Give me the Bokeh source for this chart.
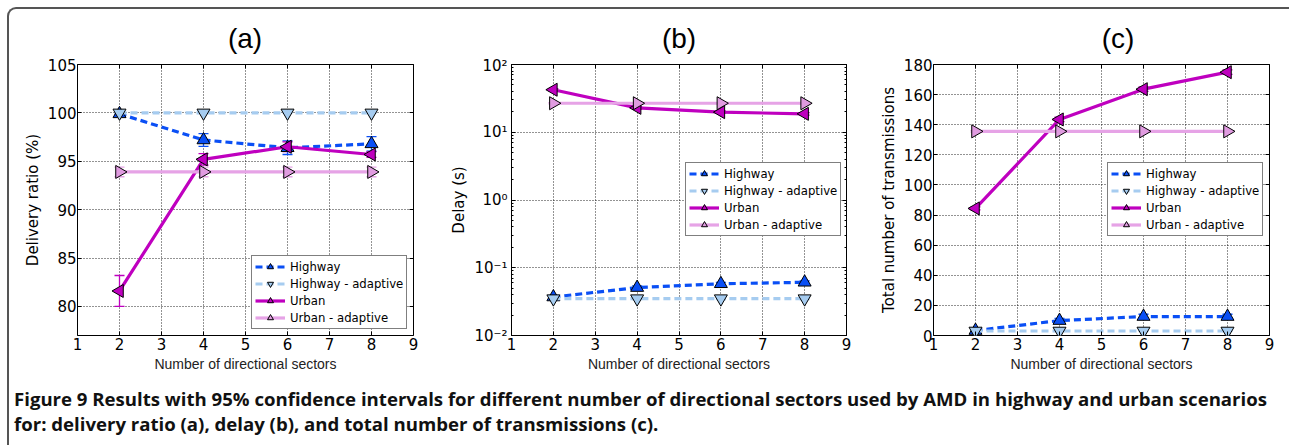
import math
from bokeh.plotting import figure
from bokeh.models import (ColumnDataSource, Whisker, TeeHead, Legend, LegendItem,
                          LinearAxis, LogAxis, Range1d, FixedTicker, LogTicker,
                          SingleIntervalTicker, CustomJSTickFormatter, Div)
from bokeh.layouts import row, column
from bokeh.embed import file_html
from bokeh.resources import INLINE

# ---------------- data ----------------
sectors = [2, 4, 6, 8]
x_ticks = [1, 2, 3, 4, 5, 6, 7, 8, 9]
series_names = ["Highway", "Highway - adaptive", "Urban", "Urban - adaptive"]
panel_titles = ["(a)", "(b)", "(c)"]

ratio_highway = [99.9, 97.2, 96.4, 96.8]
ratio_highway_err = [0.1, 0.65, 0.7, 0.75]
ratio_highway_adaptive = [100.0, 100.0, 100.0, 100.0]
ratio_highway_adaptive_err = [0.05, 0.05, 0.05, 0.05]
ratio_urban = [81.6, 95.2, 96.5, 95.7]
ratio_urban_err = [1.6, 0.6, 0.5, 0.3]
ratio_urban_adaptive = [93.9, 93.9, 93.9, 93.9]
ratio_urban_adaptive_err = [0.5, 0.5, 0.5, 0.5]

delay_highway = [0.037, 0.051, 0.058, 0.061]
delay_highway_err = [0.002, 0.003, 0.003, 0.003]
delay_highway_adaptive = [0.035, 0.035, 0.035, 0.035]
delay_highway_adaptive_err = [0.001, 0.001, 0.001, 0.001]
delay_urban = [42.4, 22.9, 19.8, 18.7]
delay_urban_err = [1.5, 1.0, 0.8, 0.8]
delay_urban_adaptive = [26.8, 26.8, 26.8, 26.8]
delay_urban_adaptive_err = [0.5, 0.5, 0.5, 0.5]

tx_highway = [3.3, 9.9, 12.6, 12.6]
tx_highway_err = [0.5, 1.5, 1.5, 1.5]
tx_highway_adaptive = [3.0, 3.0, 3.0, 3.0]
tx_highway_adaptive_err = [0.3, 0.3, 0.3, 0.3]
tx_urban = [84.4, 143.5, 163.6, 174.9]
tx_urban_err = [1.0, 1.5, 1.5, 1.5]
tx_urban_adaptive = [135.6, 135.6, 135.6, 135.6]
tx_urban_adaptive_err = [0.5, 0.5, 0.5, 0.5]

caption_line1 = ("Figure 9 Results with 95% confidence intervals for different number of "
                 "directional sectors used by AMD in highway and urban scenarios")
caption_line2 = "for: delivery ratio (a), delay (b), and total number of transmissions (c)."

# ---------------- styles ----------------
STYLES = [
    dict(color="#0A4FF5", fill="#0A4FF5", dash="7 4", marker="triangle", angle=0.0),
    dict(color="#A6CCF0", fill="#A6CCF0", dash="7 4", marker="inverted_triangle", angle=0.0),
    dict(color="#BF00BF", fill="#BF00BF", dash="solid", marker="triangle", angle=math.pi / 2),
    dict(color="#E6A3E6", fill="#E09BE0", dash="solid", marker="triangle", angle=-math.pi / 2),
]

TICK_FONT = "DejaVu Sans"
XLABEL_FONT = "Liberation Sans"
BLANK = "return '';"
TITLE_H = 47


def make_panel(ylabel, values, errors, y_start, y_end, log_scale,
               y_interval, legend_xy, border_left, border_right, frame_width,
               label_standoff):
    p = figure(frame_width=frame_width, frame_height=271,
               x_range=Range1d(1, 9), y_range=Range1d(y_start, y_end),
               y_axis_type="log" if log_scale else "linear",
               output_backend="svg", toolbar_location=None,
               min_border_left=border_left, min_border_right=border_right,
               min_border_top=55 - TITLE_H, min_border_bottom=40,
               background_fill_color="white", border_fill_color="white",
               outline_line_color="black", outline_line_width=1)
    p.title.visible = False

    xt = FixedTicker(ticks=x_ticks)
    if log_scale:
        yt = LogTicker(num_minor_ticks=10)
        p.yaxis.formatter = CustomJSTickFormatter(code="""
            const e = Math.round(Math.log10(tick));
            const sup = {"-": "\u207B", "0": "\u2070", "1": "\u00B9", "2": "\u00B2",
                         "3": "\u00B3", "4": "\u2074", "5": "\u2075", "6": "\u2076",
                         "7": "\u2077", "8": "\u2078", "9": "\u2079"};
            return "10" + String(e).split("").map(c => sup[c]).join("");
        """)
    else:
        yt = SingleIntervalTicker(interval=y_interval, num_minor_ticks=0)

    p.xaxis.ticker = xt
    p.yaxis.ticker = yt

    for ax in (p.xaxis[0], p.yaxis[0]):
        ax.axis_line_color = None
        ax.major_tick_in = 4
        ax.major_tick_out = 0
        ax.major_tick_line_color = "black"
        ax.minor_tick_in = 2 if (log_scale and ax is p.yaxis[0]) else 0
        ax.minor_tick_out = 0
        ax.major_label_text_font = TICK_FONT
        ax.major_label_text_font_size = "15px"
        ax.major_label_text_color = "black"

    p.xaxis.major_label_standoff = 2
    p.xaxis.axis_label = "Number of directional sectors"
    p.xaxis.axis_label_text_font = XLABEL_FONT
    p.xaxis.axis_label_text_font_size = "14px"
    p.xaxis.axis_label_text_font_style = "normal"
    p.xaxis.axis_label_text_color = "#222222"
    p.xaxis.axis_label_standoff = 3

    p.yaxis.major_label_standoff = label_standoff
    p.yaxis.axis_label = ylabel
    p.yaxis.axis_label_text_font = TICK_FONT
    p.yaxis.axis_label_text_font_size = "15px"
    p.yaxis.axis_label_text_font_style = "normal"
    p.yaxis.axis_label_text_color = "black"
    p.yaxis.axis_label_standoff = 3

    # mirrored inward ticks on top and right (no labels)
    top = LinearAxis(ticker=xt, axis_line_color=None, major_tick_in=4, major_tick_out=0,
                     minor_tick_in=0, minor_tick_out=0,
                     formatter=CustomJSTickFormatter(code=BLANK),
                     major_label_text_font_size="2px", major_label_standoff=0)
    p.add_layout(top, "above")
    AxisCls = LogAxis if log_scale else LinearAxis
    right = AxisCls(ticker=yt, axis_line_color=None, major_tick_in=4, major_tick_out=0,
                    minor_tick_in=2 if log_scale else 0, minor_tick_out=0,
                    formatter=CustomJSTickFormatter(code=BLANK),
                    major_label_text_font_size="2px", major_label_standoff=0)
    p.add_layout(right, "right")

    for g in (p.xgrid[0], p.ygrid[0]):
        g.grid_line_color = "black"
        g.grid_line_dash = "1 2"
        g.grid_line_width = 1
        g.grid_line_alpha = 0.85
    p.ygrid.ticker = yt
    p.xgrid.ticker = xt

    items = []
    for name, ys, es, st in zip(series_names, values, errors, STYLES):
        src = ColumnDataSource(dict(
            x=sectors, y=ys,
            upper=[v + e for v, e in zip(ys, es)],
            lower=[v - e for v, e in zip(ys, es)]))
        w = Whisker(source=src, base="x", upper="upper", lower="lower",
                    line_color=st["color"], line_width=1.3,
                    upper_head=TeeHead(size=10, line_color=st["color"], line_width=1.3),
                    lower_head=TeeHead(size=10, line_color=st["color"], line_width=1.3))
        p.add_layout(w)
        lr = p.line("x", "y", source=src, line_color=st["color"], line_width=3.2,
                    line_dash=st["dash"])
        sr = p.scatter("x", "y", source=src, marker=st["marker"], angle=st["angle"],
                       size=13, fill_color=st["fill"], line_color="black", line_width=1)
        items.append(LegendItem(label=name, renderers=[lr, sr]))

    leg = Legend(items=items, location=legend_xy, orientation="vertical",
                 label_text_font=TICK_FONT, label_text_font_size="11.7px",
                 label_text_color="black", glyph_width=30, glyph_height=15,
                 label_height=15, label_standoff=5, spacing=2, padding=3, margin=0,
                 border_line_color="black", border_line_width=1,
                 background_fill_color="white", background_fill_alpha=1.0)
    p.add_layout(leg)
    return p


def title_div(text, div_width, text_left):
    return Div(
        text=("<div style=\"display:block;width:336px;margin-left:%dpx;padding-top:14px;"
              "font-family:'Liberation Sans',sans-serif;font-size:28px;line-height:32px;"
              "text-align:center;color:#000;white-space:nowrap;\">%s</div>") % (text_left, text),
        width=div_width, height=TITLE_H, margin=0)


pa = make_panel("Delivery ratio (%)",
                [ratio_highway, ratio_highway_adaptive, ratio_urban, ratio_urban_adaptive],
                [ratio_highway_err, ratio_highway_adaptive_err, ratio_urban_err, ratio_urban_adaptive_err],
                77, 105, False, 5, (174, 6), 68, 27, 336, 1)
pb = make_panel("Delay (s)",
                [delay_highway, delay_highway_adaptive, delay_urban, delay_urban_adaptive],
                [delay_highway_err, delay_highway_adaptive_err, delay_urban_err, delay_urban_adaptive_err],
                0.01, 100, True, None, (174, 99), 71, 24, 335, 4)
pc = make_panel("Total number of transmissions",
                [tx_highway, tx_highway_adaptive, tx_urban, tx_urban_adaptive],
                [tx_highway_err, tx_highway_adaptive_err, tx_urban_err, tx_urban_adaptive_err],
                0, 180, False, 20, (174, 99), 63, 20, 336, 1)

ta = title_div(panel_titles[0], 431, 68)
tb = title_div(panel_titles[1], 430, 71)
tc = title_div(panel_titles[2], 419, 80)

caption = Div(
    text=("<div style=\"font-family:'Open Sans',sans-serif;font-weight:700;font-size:18.6px;"
          "line-height:25px;padding:11px 0 0 5px;white-space:nowrap;color:#111;\">"
          + caption_line1 + "<br>" + caption_line2 + "</div>"),
    width=1280, height=70, margin=0)

layout = column(row(ta, tb, tc, spacing=0), row(pa, pb, pc, spacing=0), caption,
                spacing=0, margin=(7, 0, 0, 7),
                styles={"border-top": "2px solid #555", "border-left": "2px solid #555",
                        "border-top-left-radius": "9px"})

open("out.html", "w").write(file_html(layout, INLINE))
